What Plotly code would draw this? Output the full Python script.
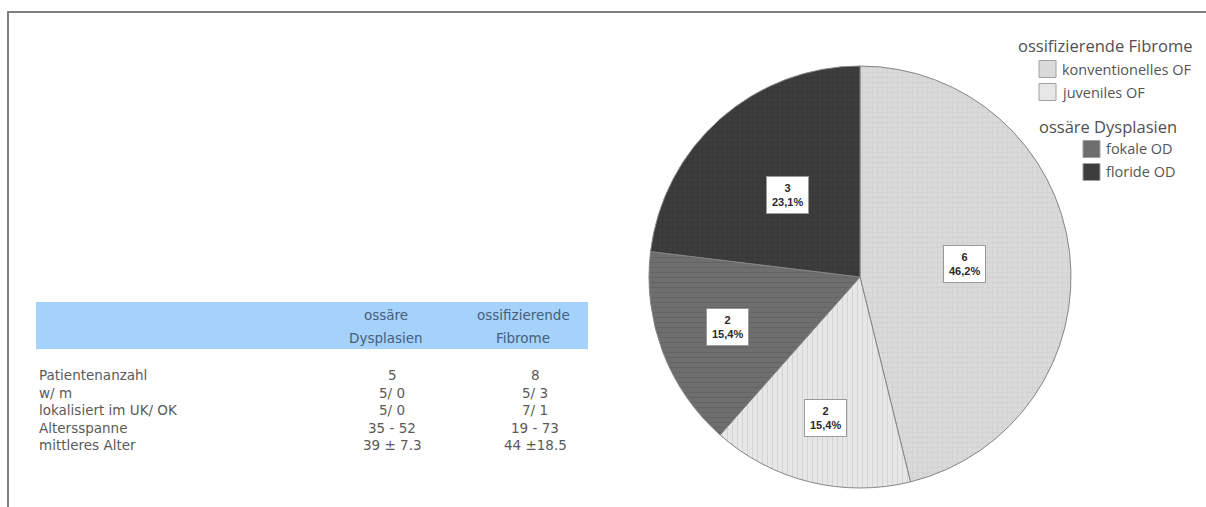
import math
import plotly.graph_objects as go

# --- data -------------------------------------------------------------
slice_names = ["konventionelles OF", "juveniles OF", "fokale OD", "floride OD"]
slice_counts = [6, 2, 2, 3]
slice_pct_labels = ["46,2%", "15,4%", "15,4%", "23,1%"]

legend_groups = ["ossifizierende Fibrome", "ossäre Dysplasien"]
legend_group_members = [["konventionelles OF", "juveniles OF"], ["fokale OD", "floride OD"]]

table_columns = [["ossäre", "Dysplasien"], ["ossifizierende", "Fibrome"]]
table_rows = ["Patientenanzahl", "w/ m", "lokalisiert im UK/ OK", "Altersspanne", "mittleres Alter"]
table_col_od = ["5", "5/ 0", "5/ 0", "35 - 52", "39 ± 7.3"]
table_col_of = ["8", "5/ 3", "7/ 1", "19 - 73", "44 ±18.5"]

# --- styling ----------------------------------------------------------
W, H = 1206, 507
fill_colors = ["#dadada", "#e7e7e7", "#6e6e6e", "#3d3d3d"]
pattern_fg = ["#cdcdcd", "#d4d4d4", "#646464", "#333333"]
pattern_shapes = ["+", "|", "-", "+"]
label_radius = [0.50, 0.69, 0.67, 0.52]   # label distance from centre, as fraction of radius

PIE_CX, PIE_CY, PIE_R = 860, 277, 211


def xp(px):
    return px / W


def yp(py):
    return 1 - py / H


fig = go.Figure()

fig.add_trace(go.Pie(
    labels=slice_names,
    values=slice_counts,
    sort=False,
    direction="clockwise",
    rotation=0,
    textinfo="none",
    hoverinfo="label+value+percent",
    showlegend=False,
    marker=dict(
        colors=fill_colors,
        line=dict(color="#858585", width=1),
        pattern=dict(shape=pattern_shapes, fgcolor=pattern_fg, bgcolor=fill_colors,
                     size=5, solidity=0.2, fillmode="replace"),
    ),
    domain=dict(x=[xp(PIE_CX - PIE_R), xp(PIE_CX + PIE_R)],
                y=[yp(PIE_CY + PIE_R), yp(PIE_CY - PIE_R)]),
))

annotations = []
shapes = []

# value labels in white boxes, placed at the middle angle of each slice
total = sum(slice_counts)
cum = 0
for cnt, pct, frac in zip(slice_counts, slice_pct_labels, label_radius):
    mid = (cum + cnt / 2) / total * 2 * math.pi
    cum += cnt
    r = frac * PIE_R
    px = PIE_CX + r * math.sin(mid)
    py = PIE_CY - r * math.cos(mid)
    annotations.append(dict(
        x=xp(px), y=yp(py), xref="paper", yref="paper",
        text=f"<b>{cnt}</b><br><b>{pct}</b>", showarrow=False,
        font=dict(family="Liberation Sans", size=11, color="#2a2a2a"),
        bgcolor="white", bordercolor="#9a9a9a", borderwidth=1, borderpad=5,
        align="center", xanchor="center", yanchor="middle",
    ))

# outer frame (top and left edge)
shapes.append(dict(type="line", xref="paper", yref="paper",
                   x0=xp(8), y0=yp(H), x1=xp(8), y1=yp(12),
                   line=dict(color="#808080", width=2)))
shapes.append(dict(type="line", xref="paper", yref="paper",
                   x0=xp(7), y0=yp(12), x1=xp(W), y1=yp(12),
                   line=dict(color="#808080", width=2)))

# --- table ------------------------------------------------------------
shapes.append(dict(type="rect", xref="paper", yref="paper",
                   x0=xp(36), x1=xp(588), y0=yp(349), y1=yp(302),
                   fillcolor="#a5d2fb", line=dict(width=0), layer="below"))
tfont = dict(family="DejaVu Sans", size=13.5, color="#5a5a5a")
hfont = dict(family="DejaVu Sans", size=13.5, color="#44607c")
head_x = [386, 523]
head_line_y = [315, 338]
col_x = [392, 535]
for cx, head in zip(head_x, table_columns):
    for line_text, ly in zip(head, head_line_y):
        annotations.append(dict(x=xp(cx), y=yp(ly), xref="paper", yref="paper",
                                text=line_text, showarrow=False,
                                xanchor="center", yanchor="middle", font=hfont))
row_y0, row_dy = 375, 17.5
for i, (lab, a, b) in enumerate(zip(table_rows, table_col_od, table_col_of)):
    y = yp(row_y0 + i * row_dy)
    annotations.append(dict(x=xp(37), y=y, xref="paper", yref="paper", text=lab,
                            showarrow=False, xanchor="left", yanchor="middle", font=tfont))
    for cx, v in zip(col_x, (a, b)):
        annotations.append(dict(x=xp(cx), y=y, xref="paper", yref="paper", text=v,
                                showarrow=False, xanchor="center", yanchor="middle", font=tfont))

# --- legend -----------------------------------------------------------
lfont_title = dict(family="Open Sans", size=16.5, color="#505050")
lfont_item = dict(family="Open Sans", size=14.5, color="#555555")
group_title_x = [1105, 1108]
group_title_y = [45, 127]
group_swatch_x = [1039, 1083]
group_item_y = [[69, 92], [149, 172]]
SW = 17
for g, title in enumerate(legend_groups):
    annotations.append(dict(x=xp(group_title_x[g]), y=yp(group_title_y[g]), xref="paper", yref="paper",
                            text=title, showarrow=False, xanchor="center", yanchor="middle",
                            font=lfont_title))
    for name, iy in zip(legend_group_members[g], group_item_y[g]):
        k = slice_names.index(name)
        sx = group_swatch_x[g]
        shapes.append(dict(type="rect", xref="paper", yref="paper",
                           x0=xp(sx), x1=xp(sx + SW), y0=yp(iy + SW / 2), y1=yp(iy - SW / 2),
                           fillcolor=fill_colors[k], line=dict(color="#a0a0a0", width=1)))
        annotations.append(dict(x=xp(sx + SW + 4), y=yp(iy), xref="paper", yref="paper",
                                text=name, showarrow=False, xanchor="left", yanchor="middle",
                                font=lfont_item))

fig.update_layout(
    width=W, height=H,
    margin=dict(l=0, r=0, t=0, b=0),
    paper_bgcolor="white", plot_bgcolor="white",
    shapes=shapes, annotations=annotations,
    showlegend=False,
)

fig.write_html("out.html")
